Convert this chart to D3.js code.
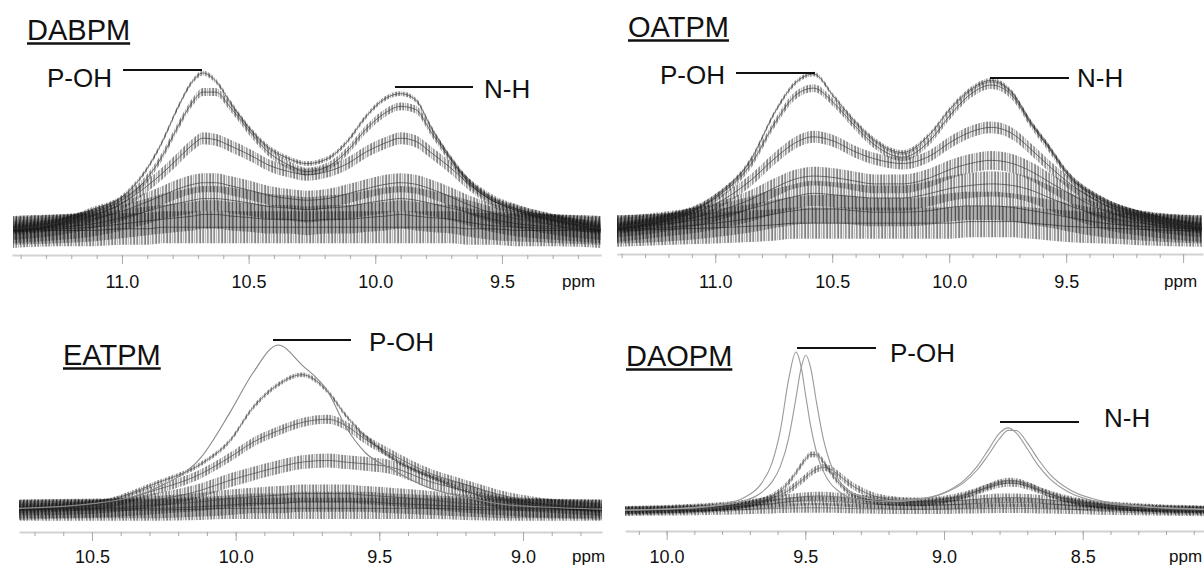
<!DOCTYPE html>
<html>
<head>
<meta charset="utf-8">
<script src="https://cdn.jsdelivr.net/npm/d3@7/dist/d3.min.js"></script>
<style>
  body { margin: 0; background: #fff; }
  svg { display: block; font-family: "Liberation Sans", Arial, sans-serif; }
</style>
</head>
<body>
<svg id="chart" width="1204" height="567"></svg>
<script>
// ---- DABPM (top left) ----
var dabpmPpm = [11.43, 11.25, 11.12, 11.0, 10.9, 10.84, 10.78, 10.72, 10.68, 10.63, 10.57, 10.49, 10.42, 10.34,
                10.27, 10.19, 10.11, 10.04, 9.96, 9.90, 9.84, 9.78, 9.70, 9.63, 9.54, 9.43, 9.28, 9.11];
var dabpmSeries = [
  [2, 6, 14, 22, 40, 57, 78, 95, 100, 95, 81, 64, 53, 46, 43, 46, 57, 72, 84, 87, 83, 66, 46, 32, 21, 14, 8, 2],
  [2, 6, 12, 20, 34, 48, 66, 82, 88, 88, 78, 62, 50, 42, 38, 41, 51, 64, 75, 79, 77, 63, 45, 31, 20, 14, 8, 2],
  [2, 5, 10, 18, 29, 37, 46, 55, 59, 58, 54, 48, 42, 38, 36, 38, 43, 50, 56, 59, 57, 50, 40, 30, 20, 13, 7, 2],
  [1, 4, 8, 13, 19, 23, 27, 30, 31, 31, 29, 26, 23, 21, 20, 21, 24, 27, 30, 31, 30, 27, 22, 17, 12, 8, 4, 1],
  [1, 3, 5, 9, 13, 16, 18, 20, 21, 21, 20, 18, 16, 15, 14, 15, 16, 18, 20, 21, 20, 18, 15, 12, 8, 5, 3, 1],
  [1, 2, 3, 5, 7, 8, 9, 10, 11, 11, 10, 9, 8, 8, 7, 8, 8, 9, 10, 11, 10, 9, 8, 6, 4, 3, 2, 1],
  [0, 1, 1, 2, 2, 3, 3, 3, 3, 3, 3, 3, 3, 3, 3, 3, 3, 3, 3, 3, 3, 3, 3, 2, 2, 1, 1, 0]
];
var dabpmNoise = [1.5, 2.5, 3.8, 6, 8, 9, 10];
var dabpmTicks = [11.0, 10.5, 10.0, 9.5];
var dabpmTickLabels = ["11.0", "10.5", "10.0", "9.5"];

// ---- OATPM (top right) ----
var oatpmPpm = [11.42, 11.24, 11.0, 10.85, 10.74, 10.66, 10.58, 10.49, 10.41, 10.32, 10.2,
                10.08, 10.0, 9.91, 9.82, 9.73, 9.65, 9.57, 9.5, 9.34, 9.18, 8.92];
var oatpmSeries = [
  [2.5, 7, 22, 45, 77, 94, 100, 85, 71, 58, 50, 62, 77, 90, 96, 88, 69, 53, 38, 20, 11, 2.5],
  [2.5, 7, 21, 42, 70, 86, 91, 81, 68, 55, 47, 58, 73, 87, 93, 86, 68, 52, 37, 19, 10, 2.5],
  [2, 6, 17, 32, 47, 56, 60, 57, 51, 46, 43, 48, 56, 63, 66, 62, 52, 41, 32, 17, 9, 2],
  [2, 5, 12, 20, 28, 33, 35, 34, 32, 30, 30, 34, 39, 43, 45, 43, 38, 31, 25, 13, 7, 2],
  [1, 4, 9, 14, 19, 22, 24, 23, 22, 21, 21, 24, 27, 29, 30, 29, 26, 21, 17, 9, 5, 1],
  [1, 2, 5, 8, 11, 13, 14, 14, 13, 12, 12, 13, 15, 16, 16, 15, 13, 11, 9, 5, 3, 1],
  [0, 1, 2, 3, 4, 5, 5, 5, 5, 5, 5, 5, 5, 6, 6, 6, 5, 4, 3, 2, 1, 0]
];
var oatpmNoise = [1.5, 2.5, 3.8, 6, 8, 9, 10];
var oatpmTicks = [11.0, 10.5, 10.0, 9.5, 9.0];
var oatpmTickLabels = ["11.0", "10.5", "10.0", "9.5", ""];

// ---- EATPM (bottom left) ----
var eatpmPpm = [10.754, 10.49, 10.28, 10.12, 10.02, 9.94, 9.852, 9.77, 9.68, 9.615, 9.55, 9.46,
                9.32, 9.21, 9.05, 8.95, 8.725];
var eatpmSeries = [
  [1, 4, 13, 32, 59, 83, 100, 88, 72, 50, 35, 25, 13, 8, 3, 2, 0.5],
  [1, 4, 16, 28, 42, 62, 76, 82, 72, 57, 45, 32, 20, 12, 6, 3, 0.5],
  [1, 3, 12, 22, 32, 41, 48, 53, 55, 51, 43, 34, 22, 16, 8, 5, 1],
  [1, 2, 6, 12, 18, 22, 26, 29, 30, 29, 28, 26, 17, 12, 4, 3, 0.5],
  [0.5, 1, 3, 5, 7, 8, 9, 10, 10, 10, 9, 8, 6, 4, 2, 1, 0.5],
  [0, 1, 1, 2, 3, 4, 4, 5, 5, 5, 5, 4, 3, 2, 1, 1, 0],
  [0, 0, 0, 0.5, 1, 1, 1, 1, 1, 1, 1, 1, 1, 0.5, 0, 0, 0]
];
var eatpmNoise = [0, 1.4, 2.8, 4.2, 5.5, 6, 6.5];
var eatpmTicks = [10.5, 10.0, 9.5, 9.0];
var eatpmTickLabels = ["10.5", "10.0", "9.5", "9.0"];

// ---- DAOPM (bottom right) ----
var daopmPpm = [10.15, 10.0, 9.9, 9.8, 9.72, 9.66, 9.62, 9.59, 9.56, 9.534, 9.515, 9.498, 9.48, 9.46, 9.435,
                9.41, 9.38, 9.34, 9.28, 9.2, 9.1, 9.0, 8.93, 8.88, 8.84, 8.80, 8.769, 8.74, 8.70, 8.66,
                8.62, 8.55, 8.45, 8.3, 8.063];
var daopmSeries = [
  [1.2, 1.9, 2.9, 4.9, 9.1, 17.4, 30.7, 51, 83, 100, 90.6, 72, 53, 37.5, 25.4, 18, 13, 9, 7.3, 6.4,
   7.6, 12, 19.4, 28.7, 39, 49.3, 52.6, 49.5, 39.5, 29, 21, 12.3, 6.6, 3.4, 1.6],
  [1.2, 1.8, 2.6, 4.2, 7.0, 11.9, 18.8, 28.5, 46.2, 71, 90.2, 98, 89.5, 68.8, 45.5, 30.5, 20, 12.8, 9.1, 7.2,
   7.9, 11.8, 18.2, 26.4, 35.8, 45.8, 51, 50.9, 43.2, 32.8, 23.9, 14.2, 7.6, 3.8, 1.8],
  [0.9, 1.3, 1.8, 2.8, 4.5, 7, 9.9, 13.4, 18.5, 24.5, 29.3, 33.3, 36, 35.8, 31.4, 25.1, 18.3, 12, 8.1, 5.8,
   5.5, 7.1, 9.9, 13.1, 16, 18.6, 19.6, 19.3, 17.2, 14.2, 11.2, 7.4, 4.3, 2.3, 1.1],
  [1, 1.5, 2.1, 3.1, 4.6, 6.6, 8.6, 10.7, 13.6, 16.8, 19.4, 21.9, 24.5, 26.7, 27.8, 26.8, 23.2, 17.6, 11.9, 8,
   6.8, 8, 10.5, 13.1, 15.4, 17.3, 18, 17.8, 16.2, 13.8, 11.4, 7.9, 4.9, 2.8, 1.5],
  [1.2, 1.8, 2.5, 3.6, 5, 6.3, 7.2, 7.9, 8.6, 9.1, 9.4, 9.7, 9.9, 10, 10, 9.8, 9.4, 8.8, 7.8, 6.8,
   6.2, 6.6, 7.3, 8, 8.5, 8.9, 9, 9, 8.7, 8.2, 7.5, 6.3, 4.6, 2.8, 1.4],
  [0.8, 1.3, 1.9, 2.8, 3.8, 4.7, 5.3, 5.8, 6.3, 6.6, 6.8, 6.9, 7, 7, 6.9, 6.7, 6.4, 5.9, 5.2, 4.5,
   4.1, 4.4, 4.9, 5.3, 5.6, 5.9, 6, 6, 5.8, 5.5, 5, 4.2, 3.1, 1.9, 0.9],
  [0.5, 0.8, 1, 1.3, 1.6, 1.9, 2.1, 2.3, 2.4, 2.5, 2.5, 2.6, 2.6, 2.6, 2.6, 2.5, 2.4, 2.2, 2, 1.8,
   1.7, 1.8, 2, 2.1, 2.2, 2.3, 2.3, 2.3, 2.2, 2.1, 2, 1.7, 1.3, 0.9, 0.4]
];
var daopmNoise = [0, 0, 1.8, 2.2, 2.6, 2.8, 3];
var daopmTicks = [10.0, 9.5, 9.0, 8.5];
var daopmTickLabels = ["10.0", "9.5", "9.0", "8.5"];

// layout of the four panels (positions only, data comes from the arrays above)
var panels = [
  { title: "DABPM", ppm: dabpmPpm, series: dabpmSeries, noise: dabpmNoise, ticks: dabpmTicks, tickLabels: dabpmTickLabels,
    domain: [11.434, 9.109], x0: 12, x1: 601, axisY: 255, base: 232, top: 73,
    titleX: 27, titleY: 40, ppmX: 562, labelY: 288,
    colors: ["#333", "#333", "#333", "#333", "#333", "#333", "#333"],
    peaks: [ { text: "P-OH", tx: 47, ty: 87, l0: 123, l1: 202, ly: 70 },
             { text: "N-H", tx: 484, ty: 98, l0: 395, l1: 473, ly: 87 } ] },
  { title: "OATPM", ppm: oatpmPpm, series: oatpmSeries, noise: oatpmNoise, ticks: oatpmTicks, tickLabels: oatpmTickLabels,
    domain: [11.42, 8.915], x0: 617, x1: 1203, axisY: 254, base: 231, top: 74,
    titleX: 628, titleY: 37, ppmX: 1164, labelY: 288,
    colors: ["#333", "#333", "#333", "#333", "#333", "#333", "#333"],
    peaks: [ { text: "P-OH", tx: 660, ty: 84, l0: 736, l1: 815, ly: 73 },
             { text: "N-H", tx: 1077, ty: 87, l0: 990, l1: 1069, ly: 78 } ] },
  { title: "EATPM", ppm: eatpmPpm, series: eatpmSeries, noise: eatpmNoise, ticks: eatpmTicks, tickLabels: eatpmTickLabels,
    domain: [10.754, 8.725], x0: 19, x1: 602, axisY: 532, base: 510, top: 345,
    titleX: 63, titleY: 365, ppmX: 572, labelY: 563,
    colors: ["#888", "#444", "#444", "#444", "#444", "#444", "#444"],
    peaks: [ { text: "P-OH", tx: 369, ty: 351, l0: 273, l1: 351, ly: 340 } ] },
  { title: "DAOPM", ppm: daopmPpm, series: daopmSeries, noise: daopmNoise, ticks: daopmTicks, tickLabels: daopmTickLabels,
    domain: [10.15, 8.063], x0: 625, x1: 1204, axisY: 531, base: 512, top: 352,
    titleX: 626, titleY: 366, ppmX: 1169, labelY: 563,
    colors: ["#999", "#999", "#555", "#555", "#555", "#555", "#555"],
    peaks: [ { text: "P-OH", tx: 890, ty: 362, l0: 797, l1: 876, ly: 348 },
             { text: "N-H", tx: 1104, ty: 427, l0: 1000, l1: 1079, ly: 422 } ] }
];

var svg = d3.select("#chart");
var defs = svg.append("defs");

// fine vertical hatching used to render the noise band of each trace
var hatchStripes = [[0, 0.7], [2, 0.4], [3, 0.6], [5, 0.3], [7, 0.55], [8, 0.35], [10, 0.5]];
d3.range(7).forEach(function(k) {
  var pat = defs.append("pattern").attr("id", "hatch" + k)
    .attr("patternUnits", "userSpaceOnUse").attr("width", 11).attr("height", 6)
    .attr("patternTransform", "translate(" + (k * 4) + ",0)");
  hatchStripes.forEach(function(s) {
    pat.append("rect").attr("x", s[0]).attr("y", 0).attr("width", 1).attr("height", 6)
      .attr("fill", "#111").attr("fill-opacity", s[1]);
  });
});

panels.forEach(function(p, i) {
  var x = d3.scaleLinear().domain(p.domain).range([p.x0, p.x1]);
  var y = d3.scaleLinear().domain([0, 100]).range([p.base, p.top]);

  defs.append("clipPath").attr("id", "clip" + i)
    .append("rect").attr("x", p.x0).attr("y", 0)
    .attr("width", p.x1 - p.x0).attr("height", p.axisY - 2);

  var g = svg.append("g");
  var spectra = g.append("g").attr("clip-path", "url(#clip" + i + ")");

  // lowest traces first, strongest on top
  d3.range(p.series.length - 1, -1, -1).forEach(function(k) {
    var vals = p.series[k], n = p.noise[k];
    if (n > 0) {
      var band = d3.area()
        .x(function(d, j) { return x(p.ppm[j]); })
        .y0(function(d) { return y(d - n); })
        .y1(function(d) { return y(d + n); })
        .curve(d3.curveMonotoneX);
      spectra.append("path").datum(vals)
        .attr("d", band)
        .attr("fill", "#000")
        .attr("fill-opacity", 0.07);
      spectra.append("path").datum(vals)
        .attr("d", band)
        .attr("fill", "url(#hatch" + k + ")")
        .attr("fill-opacity", 0.7);
    }
    var line = d3.line()
      .x(function(d, j) { return x(p.ppm[j]); })
      .y(function(d) { return y(d); })
      .curve(d3.curveMonotoneX);
    spectra.append("path").datum(vals)
      .attr("d", line)
      .attr("fill", "none")
      .attr("stroke", p.colors[k])
      .attr("stroke-opacity", n > 0 ? 0.7 : 1)
      .attr("stroke-width", n > 0 ? 0.9 : 1.1);
  });

  // axis: minor ticks every 0.1 ppm, major ticks with labels
  var minor = d3.range(Math.ceil(p.domain[1] * 10), Math.floor(p.domain[0] * 10) + 1).map(function(v) { return v / 10; });
  var minorAxis = d3.axisBottom(x).tickValues(minor).tickSize(4).tickSizeOuter(0).tickFormat("");
  var ma = g.append("g").attr("transform", "translate(0," + p.axisY + ")").call(minorAxis);
  ma.select(".domain").attr("stroke", "#d2d2d2").attr("stroke-width", 2);
  ma.selectAll(".tick line").attr("stroke", "#aaa");

  var majorAxis = d3.axisBottom(x).tickValues(p.ticks).tickSize(9).tickPadding(10)
    .tickFormat(function(d, j) { return p.tickLabels[j]; });
  var mj = g.append("g").attr("transform", "translate(0," + p.axisY + ")").call(majorAxis);
  mj.select(".domain").remove();
  mj.selectAll(".tick line").attr("stroke", "#aaa");
  mj.selectAll(".tick text")
    .attr("font-family", "'Liberation Sans', Arial, sans-serif")
    .attr("font-size", 18).attr("fill", "#111")
    .attr("dy", null).attr("y", p.labelY - p.axisY);

  g.append("text").attr("x", p.ppmX).attr("y", p.labelY - 1)
    .attr("font-size", 17).attr("fill", "#111").text("ppm");

  // underlined title
  var t = g.append("text").attr("x", p.titleX).attr("y", p.titleY)
    .attr("font-size", 29).attr("fill", "#111").text(p.title);
  var tw = t.node().getComputedTextLength();
  g.append("line").attr("x1", p.titleX).attr("x2", p.titleX + tw)
    .attr("y1", p.titleY + 3.5).attr("y2", p.titleY + 3.5)
    .attr("stroke", "#111").attr("stroke-width", 2.5);

  // peak labels
  p.peaks.forEach(function(pk) {
    g.append("line").attr("x1", pk.l0).attr("x2", pk.l1)
      .attr("y1", pk.ly).attr("y2", pk.ly)
      .attr("stroke", "#111").attr("stroke-width", 2);
    g.append("text").attr("x", pk.tx).attr("y", pk.ty)
      .attr("font-size", 26).attr("fill", "#111").text(pk.text);
  });
});
</script>
</body>
</html>
